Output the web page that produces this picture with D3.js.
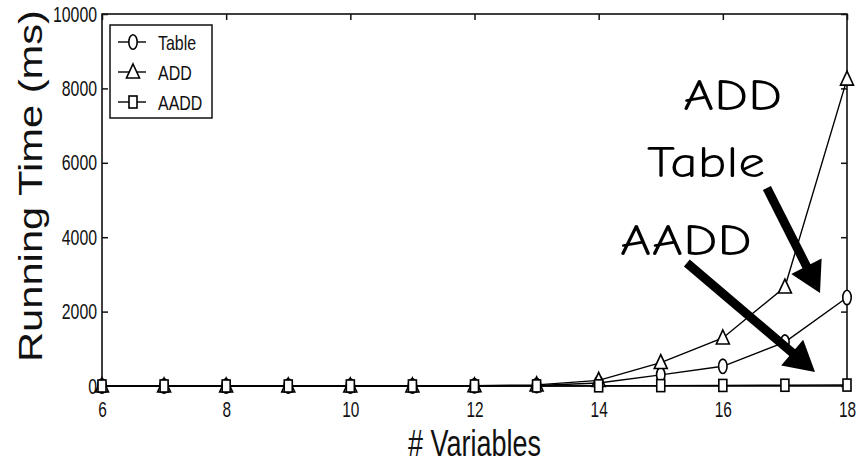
<!DOCTYPE html>
<html>
<head>
<meta charset="utf-8">
<script src="https://cdn.jsdelivr.net/npm/d3@7"></script>
<style>
  html,body{margin:0;padding:0;background:#fff;}
  svg{display:block;}
  text{font-family:"Liberation Sans",Arial,sans-serif;fill:#111;}
  .note{font-family:"Comic Sans MS","Comic Neue","DejaVu Sans",sans-serif;fill:#000;}
</style>
</head>
<body>
<svg id="chart" width="867" height="463"></svg>
<script>
// ===== data =====
const nvars   = [6,7,8,9,10,11,12,13,14,15,16,17,18];
const tableMs = [0,0,0,0,0,0,5,15,80,300,530,1180,2380];
const addMs   = [0,0,0,0,0,0,5,30,150,630,1290,2660,8250];
const aaddMs  = [0,0,0,0,0,0,0,2,5,10,15,20,25];
const xTicks  = [6,8,10,12,14,16,18];
const yTicks  = [0,2000,4000,6000,8000,10000];

const series = [
  {name:"Table", values:tableMs, marker:"circle"},
  {name:"ADD",   values:addMs,   marker:"triangle"},
  {name:"AADD",  values:aaddMs,  marker:"square"}
];

// annotations in data units
const noteLabels = ["ADD","Table","AADD"];
const noteX      = [15.36,14.78,14.34];
const noteY      = [7420,5620,3520];
const noteW      = [99,118,132];
const arrowFrom  = [[16.71,5323],[15.42,3306]];
const arrowTo    = [[17.565,2500],[17.485,376]];

// ===== chart setup =====
const svg = d3.select("#chart");
const L = 102, R = 847, T = 14, B = 386;

const x = d3.scaleLinear().domain([6,18]).range([L,R]);
const y = d3.scaleLinear().domain([0,10000]).range([B,T]);

// squeeze text horizontally so it looks like the narrow reference font
function squeeze(sel, k){
  sel.each(function(){
    const w = this.getComputedTextLength();
    d3.select(this).attr("textLength", w*k).attr("lengthAdjust","spacingAndGlyphs");
  });
}

// frame
svg.append("rect")
  .attr("x",L).attr("y",T).attr("width",R-L).attr("height",B-T)
  .attr("fill","none").attr("stroke","#111").attr("stroke-width",1.6);

// axes, ticks pointing inward like MATLAB
const gx = svg.append("g").attr("transform",`translate(0,${B})`)
  .call(d3.axisBottom(x).tickValues(xTicks).tickSizeInner(-6).tickSizeOuter(0).tickPadding(15));
const gxTop = svg.append("g").attr("transform",`translate(0,${T})`)
  .call(d3.axisTop(x).tickValues(xTicks).tickSizeInner(-6).tickSizeOuter(0).tickFormat(""));
const gy = svg.append("g").attr("transform",`translate(${L},0)`)
  .call(d3.axisLeft(y).tickValues(yTicks).tickFormat(d3.format("d")).tickSizeInner(-6).tickSizeOuter(0).tickPadding(5));
const gyR = svg.append("g").attr("transform",`translate(${R},0)`)
  .call(d3.axisRight(y).tickValues(yTicks).tickSizeInner(-6).tickSizeOuter(0).tickFormat(""));

[gx,gxTop,gy,gyR].forEach(g=>{
  g.select(".domain").remove();
  g.selectAll("line").attr("stroke","#111").attr("stroke-width",1.5);
});
gx.selectAll("text").attr("font-size",22).attr("fill","#333").attr("font-family","Liberation Sans, Arial, sans-serif").call(squeeze,0.7);
gy.selectAll("text").attr("font-size",22).attr("fill","#333").attr("font-family","Liberation Sans, Arial, sans-serif").call(squeeze,0.72);

// axis titles
svg.append("text")
  .attr("transform",`translate(42,186) rotate(-90)`)
  .attr("text-anchor","middle")
  .attr("font-size",33).attr("fill","#333")
  .text("Running Time (ms)")
  .attr("textLength",352).attr("lengthAdjust","spacingAndGlyphs");

svg.append("text")
  .attr("x",x(12)).attr("y",456)
  .attr("text-anchor","middle")
  .attr("font-size",37).attr("fill","#333")
  .text("# Variables")
  .attr("textLength",133).attr("lengthAdjust","spacingAndGlyphs");

// ===== markers =====
function drawMarker(g, kind){
  if (kind==="circle"){
    g.append("ellipse").attr("rx",4.2).attr("ry",7.2);
  } else if (kind==="triangle"){
    g.append("path").attr("d","M0,-8 L6.5,6 L-6.5,6 Z");
  } else {
    g.append("rect").attr("x",-4).attr("y",-6).attr("width",8).attr("height",12);
  }
  g.selectAll("*").attr("fill","#fff").attr("stroke","#000").attr("stroke-width",1.6);
}

const lineGen = d3.line().x((d,i)=>x(nvars[i])).y(d=>y(d));

const plot = svg.append("g");
series.forEach(s=>{
  plot.append("path")
    .attr("d", lineGen(s.values))
    .attr("fill","none").attr("stroke","#000").attr("stroke-width",1.4);
});
series.forEach(s=>{
  s.values.forEach((v,i)=>{
    const g = plot.append("g").attr("transform",`translate(${x(nvars[i])},${y(v)})`);
    drawMarker(g, s.marker);
  });
});

// ===== legend =====
const leg = svg.append("g");
leg.append("rect")
  .attr("x",110).attr("y",25).attr("width",102).attr("height",93)
  .attr("fill","#fff").attr("stroke","#111").attr("stroke-width",1.5);
series.forEach((s,i)=>{
  const cy = 42 + i*30;
  leg.append("line").attr("x1",118).attr("x2",146).attr("y1",cy).attr("y2",cy)
    .attr("stroke","#000").attr("stroke-width",1.4);
  drawMarker(leg.append("g").attr("transform",`translate(133,${cy})`), s.marker);
  leg.append("text").attr("x",158).attr("y",cy+7.5)
    .attr("font-size",21).attr("fill","#333")
    .text(s.name).call(squeeze,0.76);
});

// ===== annotations =====
const notes = svg.append("g");
noteLabels.forEach((t,i)=>{
  notes.append("text").attr("class","note")
    .attr("x",x(noteX[i])).attr("y",y(noteY[i]))
    .attr("font-size",44)
    .text(t)
    .attr("textLength",noteW[i]).attr("lengthAdjust","spacingAndGlyphs");
});

arrowFrom.forEach((f,i)=>{
  const x0 = x(f[0]), y0 = y(f[1]);
  const x1 = x(arrowTo[i][0]), y1 = y(arrowTo[i][1]);
  const dx = x1-x0, dy = y1-y0, len = Math.hypot(dx,dy);
  const ux = dx/len, uy = dy/len;
  const head = 30, half = 17;
  const bx = x1-ux*head, by = y1-uy*head;
  notes.append("line")
    .attr("x1",x0).attr("y1",y0).attr("x2",bx+ux*2).attr("y2",by+uy*2)
    .attr("stroke","#000").attr("stroke-width",9);
  notes.append("path")
    .attr("d",`M${x1},${y1} L${bx-uy*half},${by+ux*half} L${bx+uy*half},${by-ux*half} Z`)
    .attr("fill","#000");
});
</script>
</body>
</html>
